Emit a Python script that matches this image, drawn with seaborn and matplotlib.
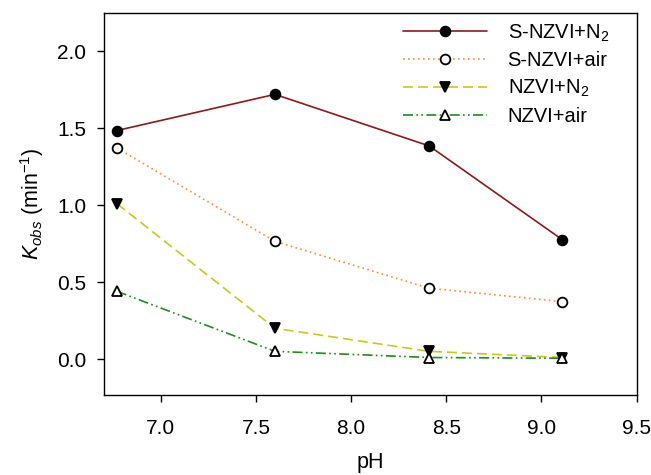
import matplotlib
matplotlib.use("Agg")
import matplotlib.pyplot as plt
import seaborn as sns
import pandas as pd

# ---- data ----
ph = [6.77, 7.60, 8.41, 9.11]
s_nzvi_n2 = [1.485, 1.72, 1.385, 0.775]
s_nzvi_air = [1.372, 0.765, 0.46, 0.373]
nzvi_n2 = [1.01, 0.20, 0.05, 0.01]
nzvi_air = [0.44, 0.05, 0.01, 0.005]
labels = ["S-NZVI+N$_2$", "S-NZVI+air", "NZVI+N$_2$", "NZVI+air"]
x_ticks = [7.0, 7.5, 8.0, 8.5, 9.0, 9.5]
y_ticks = [0.0, 0.5, 1.0, 1.5, 2.0]

sns.set_theme(style="ticks")
plt.rcParams["font.family"] = ["Liberation Sans", "DejaVu Sans"]
plt.rcParams["mathtext.fontset"] = "custom"
plt.rcParams["mathtext.rm"] = "Liberation Sans"
plt.rcParams["mathtext.it"] = "Liberation Sans:italic"
plt.rcParams["mathtext.bf"] = "Liberation Sans:bold"
plt.rcParams["text.color"] = "black"

fig = plt.figure(figsize=(6.51, 4.75), dpi=100)
ax = fig.add_axes([0.16, 0.168, 0.818, 0.805])

styles = [
    dict(color="#8B1A1A", linestyle="-", marker="o", mfc="black", mec="black"),
    dict(color="#FF8C3A", linestyle=(0, (1, 2)), marker="o", mfc="white", mec="black"),
    dict(color="#C8C81E", linestyle=(0, (6, 3)), marker="v", mfc="black", mec="black"),
    dict(color="#1E8C1E", linestyle=(0, (6, 2, 1, 2, 1, 2)), marker="^", mfc="white", mec="black"),
]
series = [s_nzvi_n2, s_nzvi_air, nzvi_n2, nzvi_air]

for vals, lab, st in zip(series, labels, styles):
    df = pd.DataFrame({"pH": ph, "k": vals})
    sns.lineplot(data=df, x="pH", y="k", ax=ax, label=lab,
                 color=st["color"], linestyle=st["linestyle"], linewidth=1.2,
                 marker=st["marker"], markersize=7,
                 markerfacecolor=st["mfc"], markeredgecolor=st["mec"],
                 markeredgewidth=1.3)

ax.set_xlim(6.703, 9.5)
ax.set_ylim(-0.235, 2.25)
ax.set_xticks(x_ticks)
ax.set_xticklabels([f"{t:.1f}" for t in x_ticks])
ax.set_yticks(y_ticks)
ax.set_yticklabels([f"{t:.1f}" for t in y_ticks])
ax.tick_params(direction="out", length=5, width=1, labelsize=15, color="black",
               labelcolor="black")
ax.tick_params(axis="x", pad=12)
ax.tick_params(axis="y", pad=8)
for sp in ax.spines.values():
    sp.set_visible(True)
    sp.set_color("black")
    sp.set_linewidth(1)

ax.set_xlabel("pH", fontsize=15.5, color="black", labelpad=10)
ax.set_ylabel("$K_{obs}$ (min$^{-1}$)", fontsize=15.5, color="black", labelpad=8)

leg = ax.legend(loc="upper left", bbox_to_anchor=(0.561, 0.975), frameon=False,
                fontsize=14.5, handlelength=4.2, handletextpad=1.0, labelspacing=0.38,
                borderaxespad=0, borderpad=0, numpoints=1)
for t in leg.get_texts():
    t.set_color("black")

fig.savefig("out.png", dpi=100)
